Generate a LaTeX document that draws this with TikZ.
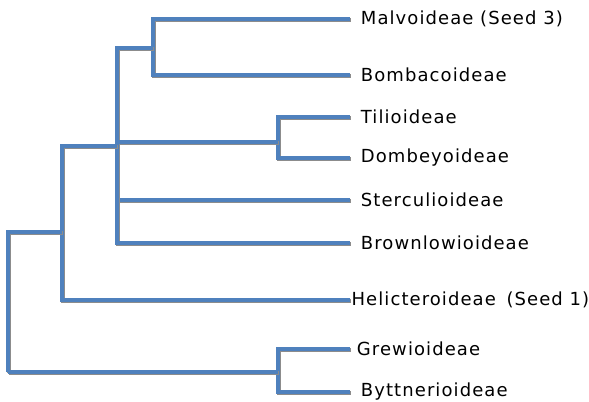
\documentclass[tikz,border=0pt]{standalone}
\usepackage{fontspec}
\setmainfont{DejaVu Sans}[LetterSpace=6]
\definecolor{branchblue}{RGB}{79,129,189}
\begin{document}
\begin{tikzpicture}[x=0.75pt,y=-0.75pt,
    branch/.style={line width=3pt,draw=branchblue,line join=miter,
        preaction={draw=black!45,line width=3pt,transform canvas={shift={(0.4pt,-0.8pt)}}}},
    taxon/.style={anchor=west,inner xsep=8pt,inner ysep=0pt,font=\fontsize{13.5}{16}\selectfont}]
    \useasboundingbox (0,0) rectangle (589,402);
    \node[taxon] (malv) at (350,19) {Malvoideae\hspace{5pt}(Seed 3)};
    \node[taxon] (bomb) at (350,75) {Bombacoideae};
    \node[taxon] (tili) at (350,117) {Tilioideae};
    \node[taxon] (domb) at (350,158) {Dombeyoideae};
    \node[taxon] (ster) at (350,200) {Sterculioideae};
    \node[taxon] (brow) at (350,243) {Brownlowioideae};
    \node[taxon,inner xsep=1pt] (heli) at (350,300) {Helicteroideae\hspace{8pt}(Seed 1)};
    \node[taxon,inner xsep=5pt] (grew) at (350,349) {Grewioideae};
    \node[taxon] (bytt) at (350,392) {Byttnerioideae};
    \coordinate (mb) at (153,48);
    \coordinate (td) at (278,142);
    \coordinate (core) at (117,146);
    \coordinate (base) at (62,232);
    \coordinate (gb) at (278,372);
    \coordinate (root) at (8,372);
    \draw[branch] (mb) |- (malv.west);
    \draw[branch] (mb) |- (bomb.west);
    \draw[branch] (td) |- (tili.west);
    \draw[branch] (td) |- (domb.west);
    \draw[branch] (core) |- (mb);
    \draw[branch] (core) |- (td);
    \draw[branch] (core) |- (ster.west);
    \draw[branch] (core) |- (brow.west);
    \draw[branch] (base) |- (core);
    \draw[branch] (base) |- (heli.west);
    \draw[branch] (gb) |- (grew.west);
    \draw[branch] (gb) |- (bytt.west);
    \draw[branch] (root) |- (base);
    \draw[branch] (root) -- (gb);
\end{tikzpicture}
\end{document}
